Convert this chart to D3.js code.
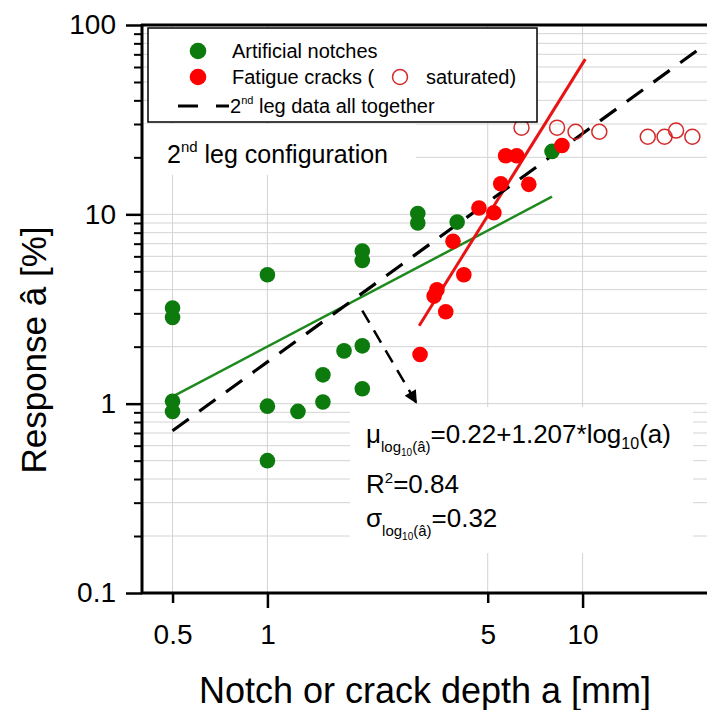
<!DOCTYPE html>
<html><head><meta charset="utf-8">
<script src="https://cdn.jsdelivr.net/npm/d3@7"></script>
<style>body{margin:0;background:#fff}svg{display:block}text{font-family:"Liberation Sans",Arial,sans-serif}</style>
</head><body><svg id="c" width="707" height="710"></svg>
<script>
// ---- data ----
const notchDepth = [0.5,0.5,0.5,0.5,1,1,1,1.25,1.5,1.5,1.75,2,2,2,2,3,3,4,8];
const notchResp  = [3.2,2.85,1.03,0.91,4.8,0.97,0.5,0.91,1.02,1.42,1.9,2.02,1.2,6.4,5.7,10.1,9.0,9.1,21.5];
const crackDepth = [3.05,3.68,3.45,3.38,4.2,3.88,4.69,5.23,5.5,6.75,5.7,6.18,8.6];
const crackResp  = [1.82,3.06,4.0,3.7,4.8,7.2,10.8,10.2,14.5,14.4,20.4,20.4,23.1];
const satDepth   = [6.4,8.3,9.5,11.3,16.1,18.2,19.8,22.3];
const satResp    = [28.7,28.7,27.3,27.3,25.7,25.7,27.7,25.7];
const notchFitA = [0.5,8],    notchFitR = [1.09,12.4];
const crackFitA = [3.03,10.2], crackFitR = [2.58,66];
const allFitA   = [0.5,23],   allFitR   = [0.72,73];
const arrowA = [2.0,2.98], arrowR = [3.1,1.0];
const xTicks = [0.5,1,5,10];
const yTicks = [0.1,1,10,100];

const svg = d3.select("#c");
const x = d3.scaleLog().domain([0.4,25]).range([142,708]);
const y = d3.scaleLog().domain([0.1,100]).range([593,25]);
const GREEN="#0d7a0d", RED="#ff0000";

// gridlines
const g = svg.append("g");
g.selectAll("line.h").data(y.ticks()).join("line")
  .attr("x1",142).attr("x2",707).attr("y1",d=>y(d)).attr("y2",d=>y(d))
  .attr("stroke","#d4d4d4").attr("stroke-width",1);
g.selectAll("line.v").data(xTicks).join("line")
  .attr("x1",d=>x(d)).attr("x2",d=>x(d)).attr("y1",25).attr("y2",593)
  .attr("stroke","#d4d4d4").attr("stroke-width",1);

// white annotation backgrounds
svg.append("rect").attr("x",143).attr("y",124).attr("width",273).attr("height",51).attr("fill","#fff");
svg.append("rect").attr("x",350).attr("y",407).attr("width",343).attr("height",146).attr("fill","#fff");

// fit lines
const line = d3.line().x(d=>x(d[0])).y(d=>y(d[1]));
svg.append("path").attr("d",line(d3.zip(notchFitA,notchFitR))).attr("stroke","#1e8a1e").attr("stroke-width",2.5).attr("fill","none");
svg.append("path").attr("d",line(d3.zip(crackFitA,crackFitR))).attr("stroke","#e81414").attr("stroke-width",3).attr("fill","none");
svg.append("path").attr("d",line(d3.zip(allFitA,allFitR))).attr("stroke","#000").attr("stroke-width",3.2)
  .attr("stroke-dasharray","20,13").attr("fill","none");

// arrow
svg.append("defs").append("marker").attr("id","ah").attr("viewBox","0 0 10 10").attr("refX",10).attr("refY",5)
  .attr("markerWidth",17).attr("markerHeight",13).attr("markerUnits","userSpaceOnUse").attr("orient","auto")
  .append("path").attr("d","M0,0L10,5L0,10Z").attr("fill","#000");
svg.append("path").attr("d",line(d3.zip(arrowA,arrowR))).attr("stroke","#000").attr("stroke-width",2.5)
  .attr("stroke-dasharray","14,9").attr("fill","none").attr("marker-end","url(#ah)");

// points
svg.append("g").selectAll("circle").data(d3.zip(satDepth,satResp)).join("circle")
  .attr("cx",d=>x(d[0])).attr("cy",d=>y(d[1])).attr("r",7.5).attr("fill","none").attr("stroke","#d42a2a").attr("stroke-width",1.5);
svg.append("g").selectAll("circle").data(d3.zip(notchDepth,notchResp)).join("circle")
  .attr("cx",d=>x(d[0])).attr("cy",d=>y(d[1])).attr("r",7.8).attr("fill",GREEN);
svg.append("g").selectAll("circle").data(d3.zip(crackDepth,crackResp)).join("circle")
  .attr("cx",d=>x(d[0])).attr("cy",d=>y(d[1])).attr("r",7.8).attr("fill",RED);

// legend
const lg = svg.append("g");
lg.append("rect").attr("x",148).attr("y",28).attr("width",389).attr("height",94).attr("fill","#fff").attr("stroke","#000").attr("stroke-width",1.5);
lg.append("circle").attr("cx",198).attr("cy",51).attr("r",8.3).attr("fill",GREEN);
lg.append("circle").attr("cx",198).attr("cy",77).attr("r",8.3).attr("fill",RED);
lg.append("text").attr("x",232).attr("y",58).attr("font-size",20).text("Artificial notches");
lg.append("text").attr("x",232).attr("y",84).attr("font-size",20).text("Fatigue cracks (");
lg.append("circle").attr("cx",400).attr("cy",77).attr("r",7.5).attr("fill","none").attr("stroke","#d42a2a").attr("stroke-width",1.5);
lg.append("text").attr("x",426).attr("y",84).attr("font-size",20).text("saturated)");
lg.append("line").attr("x1",178).attr("x2",229).attr("y1",106).attr("y2",106).attr("stroke","#000").attr("stroke-width",3.2).attr("stroke-dasharray","20,18");
const t3 = lg.append("text").attr("x",230).attr("y",113).attr("font-size",20);
t3.append("tspan").text("2");
t3.append("tspan").attr("font-size",11).attr("dy",-9).text("nd");
t3.append("tspan").attr("dy",9).text(" leg data all together");

// config label
const cl = svg.append("text").attr("x",167).attr("y",163).attr("font-size",25);
cl.append("tspan").text("2");
cl.append("tspan").attr("font-size",15).attr("dy",-11).text("nd");
cl.append("tspan").attr("dy",11).text(" leg configuration");

// equation
const eq = svg.append("g").attr("font-size",26);
const e1 = eq.append("text").attr("x",366).attr("y",443);
e1.append("tspan").text("μ");
e1.append("tspan").attr("font-size",15).attr("dy",9).text("log");
e1.append("tspan").attr("font-size",10).attr("dy",4).text("10");
e1.append("tspan").attr("font-size",15).attr("dy",-4).text("(â)");
e1.append("tspan").attr("dy",-9).text("=0.22+1.207*log");
e1.append("tspan").attr("font-size",16).attr("dy",6).text("10");
e1.append("tspan").attr("dy",-6).text("(a)");
const e2 = eq.append("text").attr("x",366).attr("y",493);
e2.append("tspan").text("R");
e2.append("tspan").attr("font-size",15).attr("dy",-10).text("2");
e2.append("tspan").attr("dy",10).text("=0.84");
const e3 = eq.append("text").attr("x",366).attr("y",527);
e3.append("tspan").text("σ");
e3.append("tspan").attr("font-size",15).attr("dy",9).text("log");
e3.append("tspan").attr("font-size",10).attr("dy",4).text("10");
e3.append("tspan").attr("font-size",15).attr("dy",-4).text("(â)");
e3.append("tspan").attr("dy",-9).text("=0.32");

// axes
const ax = svg.append("g");
const yMinor = y.ticks().filter(d=>!yTicks.some(t=>Math.abs(t-d)<1e-9));
ax.append("g").attr("transform","translate(142,0)")
  .call(d3.axisLeft(y).tickValues(yMinor).tickSize(8).tickFormat("").tickSizeOuter(0))
  .call(s=>{s.select(".domain").remove();s.selectAll("line").attr("stroke-width",2);});
ax.append("g").attr("transform","translate(142,0)")
  .call(d3.axisLeft(y).tickValues(yTicks).tickSize(16).tickSizeOuter(0).tickFormat(d=>String(d)).tickPadding(10))
  .call(s=>{s.select(".domain").remove();s.selectAll("line").attr("stroke-width",2.5);
    s.selectAll("text").attr("font-size",28).attr("font-family","Liberation Sans, Arial, sans-serif").attr("fill","#000");});
ax.append("g").attr("transform","translate(0,593)")
  .call(d3.axisBottom(x).tickValues(xTicks).tickSize(10).tickSizeOuter(0).tickFormat(d=>String(d)))
  .call(s=>{s.select(".domain").remove();
    s.selectAll("line").attr("stroke-width",2.5).attr("y2",d=>(d===1||d===10)?15:10);
    s.selectAll("text").attr("font-size",28).attr("font-family","Liberation Sans, Arial, sans-serif").attr("fill","#000").attr("dy",0).attr("y",51);});
ax.append("line").attr("x1",142).attr("x2",142).attr("y1",24).attr("y2",594).attr("stroke","#000").attr("stroke-width",3);
ax.append("line").attr("x1",141).attr("x2",707).attr("y1",593).attr("y2",593).attr("stroke","#000").attr("stroke-width",3);
ax.append("line").attr("x1",141).attr("x2",707).attr("y1",25).attr("y2",25).attr("stroke","#000").attr("stroke-width",3);

// titles
svg.append("text").attr("x",425).attr("y",703).attr("text-anchor","middle").attr("font-size",36).text("Notch or crack depth a [mm]");
svg.append("text").attr("transform","translate(46,350) rotate(-90)").attr("text-anchor","middle").attr("font-size",35).text("Response â [%]");
</script></body></html>
